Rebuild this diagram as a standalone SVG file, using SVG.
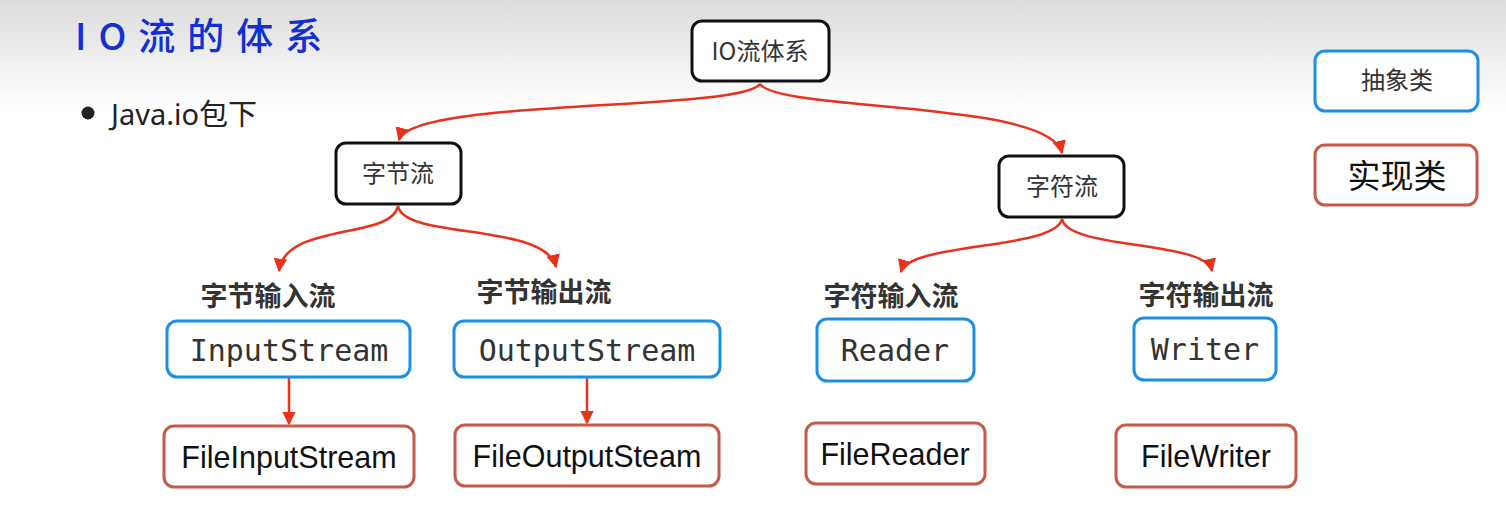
<svg xmlns="http://www.w3.org/2000/svg" width="1506" height="516" viewBox="0 0 1506 516">
<defs>
<linearGradient id="bg" x1="0" y1="0" x2="0" y2="1">
<stop offset="0" stop-color="#dcdcdc"/>
<stop offset="1" stop-color="#ffffff"/>
</linearGradient>
<marker id="arr" viewBox="0 0 10 10" refX="9" refY="5" markerWidth="5.5" markerHeight="5.5" orient="auto" markerUnits="strokeWidth">
<path d="M0,0 L10,5 L0,10 z" fill="#e8321c"/>
</marker>
<style>
.black{fill:#fff;stroke:#111;stroke-width:3}
.blue{fill:#fff;stroke:#1a8fe3;stroke-width:3}
.red{fill:#fff;stroke:#c65a48;stroke-width:3}
.cn{font-family:"Noto Sans CJK SC","Noto Sans",sans-serif;fill:#333;text-anchor:middle}
.lbl{font-family:"Noto Sans CJK SC",sans-serif;font-weight:bold;fill:#333;font-size:27px;text-anchor:middle}
.mono{font-family:"DejaVu Sans Mono",monospace;fill:#333;font-size:30px;text-anchor:middle}
.impl{font-family:"Liberation Sans",sans-serif;fill:#111;font-size:30.5px;text-anchor:middle}
.con{fill:none;stroke:#e8321c;stroke-width:2.5;marker-end:url(#arr)}
</style>
</defs>
<rect x="0" y="0" width="1506" height="110" fill="url(#bg)"/>
<rect x="0" y="110" width="1506" height="406" fill="#fff"/>
<g id="title">
<text x="75" y="50" font-family="Noto Sans CJK SC,sans-serif" font-size="37" font-weight="500" fill="#1530d2" letter-spacing="12">IO流的体系</text>
</g>
<g id="bullet">
<circle cx="88" cy="113" r="6.5" fill="#222"/>
<text x="111" y="125" font-family="Noto Sans,Noto Sans CJK SC,sans-serif" font-size="29" fill="#222">Java.io包下</text>
</g>
<g id="connectors">
<path class="con" d="M760,84 C740,112 410,98 399,140"/>
<path class="con" d="M760,84 C780,112 1050,100 1062,153"/>
<path class="con" d="M398,206 C392,240 285,222 279,271"/>
<path class="con" d="M398,206 C404,240 545,222 556,267"/>
<path class="con" d="M1062,219 C1055,250 910,242 901,272"/>
<path class="con" d="M1062,219 C1068,250 1205,240 1212,271"/>
<path class="con" d="M289,378 L289,424"/>
<path class="con" d="M587,378 L587,423"/>
</g>
<g id="n-io">
<rect class="black" x="692" y="21" width="137" height="60" rx="10"/>
<text class="cn" x="760" y="60" font-size="24">IO流体系</text>
</g>
<g id="n-byte">
<rect class="black" x="336" y="143" width="125" height="61" rx="10"/>
<text class="cn" x="398" y="182" font-size="24">字节流</text>
</g>
<g id="n-char">
<rect class="black" x="999" y="156" width="125" height="61" rx="10"/>
<text class="cn" x="1062" y="195" font-size="24">字符流</text>
</g>
<g id="legend-abstract">
<rect class="blue" x="1315" y="51" width="163" height="60" rx="10"/>
<text class="cn" x="1397" y="89" font-size="24">抽象类</text>
</g>
<g id="legend-impl">
<rect class="red" x="1315" y="145" width="162" height="60" rx="10"/>
<text class="cn" x="1397" y="188" font-size="33" style="fill:#111">实现类</text>
</g>
<g id="lbl-bin"><text class="lbl" x="268" y="306">字节输入流</text></g>
<g id="lbl-bout"><text class="lbl" x="544" y="302">字节输出流</text></g>
<g id="lbl-cin"><text class="lbl" x="891" y="306">字符输入流</text></g>
<g id="lbl-cout"><text class="lbl" x="1206" y="305">字符输出流</text></g>
<g id="n-inputstream">
<rect class="blue" x="167" y="321" width="243" height="56" rx="10"/>
<text class="mono" x="289" y="361">InputStream</text>
</g>
<g id="n-outputstream">
<rect class="blue" x="454" y="321" width="266" height="56" rx="10"/>
<text class="mono" x="587" y="361">OutputStream</text>
</g>
<g id="n-reader">
<rect class="blue" x="817" y="319" width="157" height="62" rx="10"/>
<text class="mono" x="895" y="361">Reader</text>
</g>
<g id="n-writer">
<rect class="blue" x="1134" y="318" width="142" height="62" rx="10"/>
<text class="mono" x="1205" y="360">Writer</text>
</g>
<g id="n-fileinputstream">
<rect class="red" x="164" y="426" width="250" height="61" rx="10"/>
<text class="impl" x="289" y="468">FileInputStream</text>
</g>
<g id="n-fileoutputsteam">
<rect class="red" x="455" y="425" width="264" height="61" rx="10"/>
<text class="impl" x="587" y="467">FileOutputSteam</text>
</g>
<g id="n-filereader">
<rect class="red" x="806" y="423" width="179" height="61" rx="10"/>
<text class="impl" x="895" y="465">FileReader</text>
</g>
<g id="n-filewriter">
<rect class="red" x="1116" y="425" width="180" height="62" rx="10"/>
<text class="impl" x="1206" y="467">FileWriter</text>
</g>
</svg>
